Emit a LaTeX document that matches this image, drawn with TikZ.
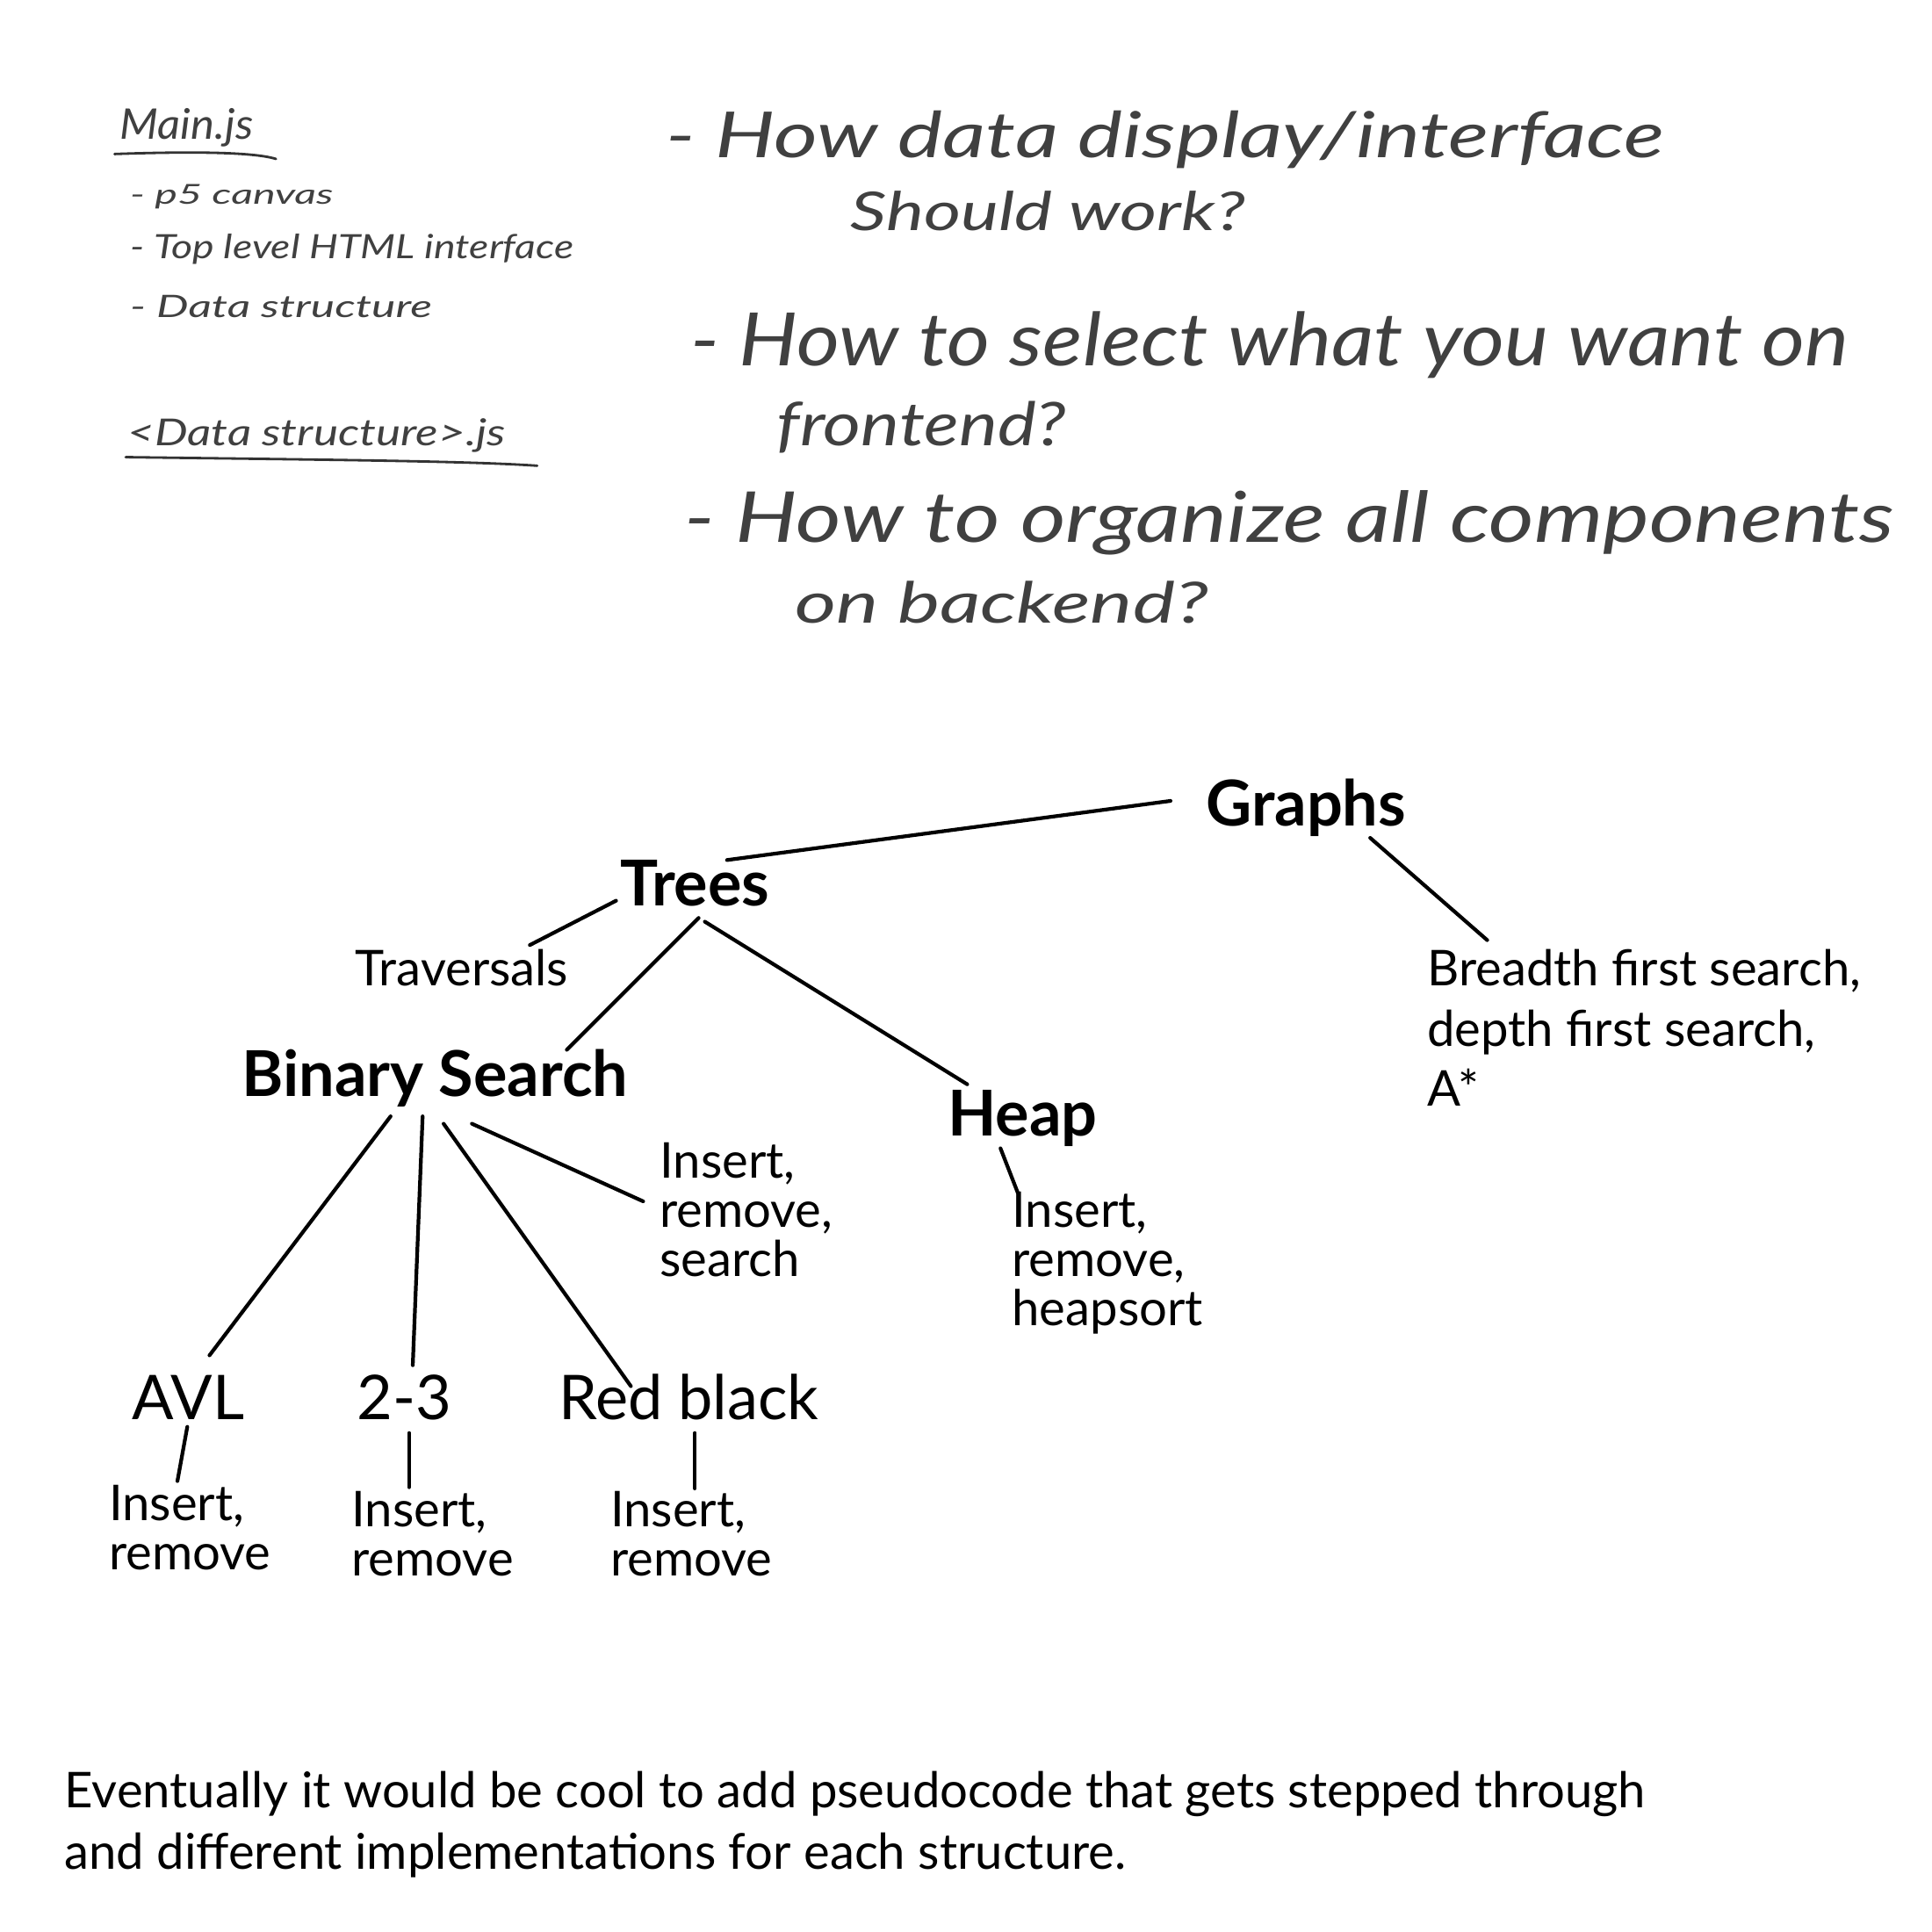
\documentclass[tikz,border=0pt]{standalone}
\usepackage{fontspec}
\usepackage{graphicx}
\setmainfont{Lato}
\usetikzlibrary{calc}
\newlength\myu
\setlength\myu{0.014031cm}
\newcommand\hw[3]{\resizebox{#1\myu}{#2\myu}{\itshape #3}}
\newcommand\vl[2]{\vtop{\baselineskip=#1\myu\lineskiplimit=-\maxdimen\lineskip=0pt #2}}
\tikzset{
  con/.style={line width=1.2pt, line cap=round},
  pen/.style={line width=0.8pt, line cap=round, black!80},
  head/.style={font=\fontsize{20.5}{20.5}\selectfont\bfseries, inner sep=0pt, anchor=base},
  big/.style={font=\fontsize{20}{20}\selectfont, inner sep=0pt, anchor=base},
  leaf/.style={font=\fontsize{16}{16}\selectfont, inner sep=0pt, anchor=base west},
  hand/.style={inner sep=0pt, anchor=base west, text=black!75},
}
\begin{document}
\begin{tikzpicture}[x=0.014031cm, y=-0.014031cm]
\fill[white] (0,0) rectangle (1568,1568);
\path[use as bounding box] (0,0) rectangle (1568,1568);

% handwritten notes
\node[hand] (h1) at (97,113) {\hw{108}{25}{Main.js}};
\node[hand] (h2) at (105,166) {\hw{165}{16}{- p5 canvas}};
\node[hand] (h3) at (105,210) {\hw{360}{20}{- Top level HTML interface}};
\node[hand] (h4) at (105,258) {\hw{245}{18}{- Data structure}};
\node[hand] (h5) at (103,362) {\hw{307}{22}{<Data structure>.js}};
\draw[pen] (93,125) .. controls (150,123) and (205,123) .. (224,129);
\draw[pen] (102,371) .. controls (250,373) and (380,374) .. (436,378);

\node[hand] (q1) at (540,128) {\hw{810}{38}{- How data display/interface}};
\node[hand] (q1b) at (690,187) {\hw{320}{32}{Should work?}};
\node[hand] (q2) at (560,297) {\hw{940}{44}{- How to select what you want on}};
\node[hand] (q2b) at (630,362) {\hw{235}{36}{frontend?}};
\node[hand] (q3) at (555,440) {\hw{982}{42}{- How to organize all components}};
\node[hand] (q3b) at (645,506) {\hw{335}{34}{on backend?}};

% tree
\node[head] (graphs) at (1060,670) {Graphs};
\node[head] (trees) at (564,735) {Trees};
\node[leaf] (trav) at (288,800) {Traversals};
\node[head] (bs) at (353,890) {Binary Search};
\node[head] (heap) at (830,922) {Heap};
\node[leaf] (bfs) at (1158,800) {\vl{49}{\hbox{Breadth first search,}\hbox{depth first search,}\hbox{A*}}};
\node[leaf] (irs) at (535,956) {\vl{40}{\hbox{Insert,}\hbox{remove,}\hbox{search}}};
\node[leaf] (heapops) at (821,996) {\vl{40}{\hbox{Insert,}\hbox{remove,}\hbox{heapsort}}};
\node[big] (avl) at (153,1152) {AVL};
\node[big] (tt) at (328,1152) {2-3};
\node[big] (rb) at (559,1152) {Red black};
\node[leaf] (avlops) at (88,1234) {\vl{40}{\hbox{Insert,}\hbox{remove}}};
\node[leaf] (ttops) at (285,1239) {\vl{40}{\hbox{Insert,}\hbox{remove}}};
\node[leaf] (rbops) at (495,1239) {\vl{40}{\hbox{Insert,}\hbox{remove}}};
\node[leaf] (note) at (52,1467) {\vl{50}{\hbox{Eventually it would be cool to add pseudocode that gets stepped through}\hbox{and different implementations for each structure.}}};

\draw[con] ($(trees.base)+(26,-37)$) -- ($(graphs.base)+(-110,-20)$);
\draw[con] ($(trees.base)+(-64,-4)$) -- ($(trav.base west)+(142,-33)$);
\draw[con] ($(trees.base)+(3,10)$) -- ($(bs.base)+(107,-38)$);
\draw[con] ($(trees.base)+(8,13)$) -- ($(heap.base)+(-45,-42)$);
\draw[con] ($(graphs.base)+(52,10)$) -- ($(bfs.base west)+(49,-37)$);
\draw[con] ($(bs.base)+(-36,16)$) -- ($(avl.base)+(17,-52)$);
\draw[con] ($(bs.base)+(-10,16)$) -- ($(tt.base)+(7,-44)$);
\draw[con] ($(bs.base)+(7,22)$) -- ($(rb.base)+(-47,-27)$);
\draw[con] ($(bs.base)+(30,22)$) -- ($(irs.base west)+(-13,19)$);
\draw[con] ($(heap.base)+(-18,10)$) -- ($(heapops.base west)+(5,-28)$);
\draw[con] ($(avl.base)+(-1,6)$) -- ($(avlops.base west)+(56,-32)$);
\draw[con] ($(tt.base)+(4,11)$) -- ($(ttops.base west)+(47,-32)$);
\draw[con] ($(rb.base)+(5,11)$) -- ($(rbops.base west)+(69,-31)$);
\end{tikzpicture}
\end{document}
